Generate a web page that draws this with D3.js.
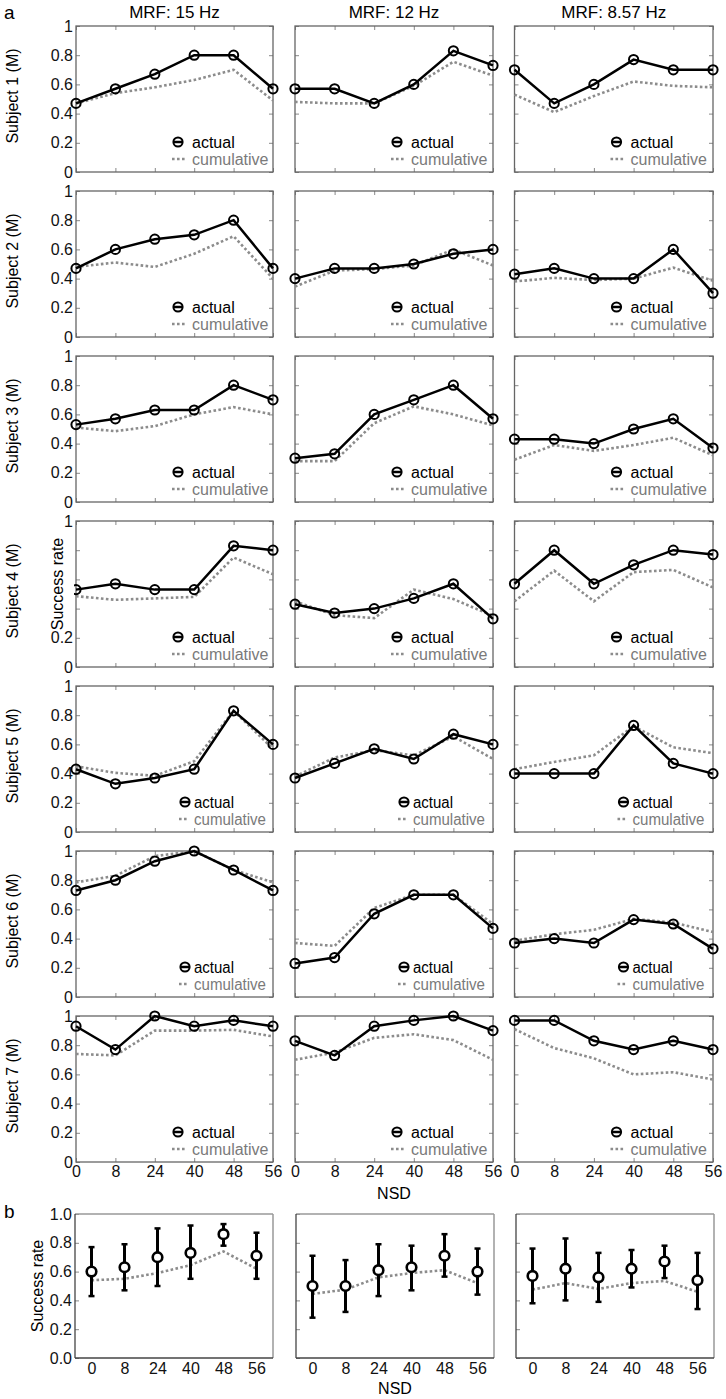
<!DOCTYPE html>
<html><head><meta charset="utf-8">
<script src="https://cdn.jsdelivr.net/npm/d3@7"></script>
<style>
html,body{margin:0;padding:0;background:#fff;}
svg{display:block;font-family:"Liberation Sans",Arial,sans-serif;}
</style></head>
<body>
<svg id="chart" width="726" height="1399"></svg>
<script>
// ---------- DATA ----------
const categories = ["0","8","24","40","48","56"];
const titles = ["MRF: 15 Hz","MRF: 12 Hz","MRF: 8.57 Hz"];
const subjects = ["Subject 1 (M)","Subject 2 (M)","Subject 3 (M)","Subject 4 (M)","Subject 5 (M)","Subject 6 (M)","Subject 7 (M)"];
const yTicksA = [0,0.2,0.4,0.6,0.8,1];
const yTicksB = [0,0.2,0.4,0.6,0.8,1.0];

// actual success rate per subject: [15 Hz, 12 Hz, 8.57 Hz]
const actualS1 = [[0.47,0.57,0.67,0.80,0.80,0.57],[0.57,0.57,0.47,0.60,0.83,0.73],[0.70,0.47,0.60,0.77,0.70,0.70]];
const actualS2 = [[0.47,0.60,0.67,0.70,0.80,0.47],[0.40,0.47,0.47,0.50,0.57,0.60],[0.43,0.47,0.40,0.40,0.60,0.30]];
const actualS3 = [[0.53,0.57,0.63,0.63,0.80,0.70],[0.30,0.33,0.60,0.70,0.80,0.57],[0.43,0.43,0.40,0.50,0.57,0.37]];
const actualS4 = [[0.53,0.57,0.53,0.53,0.83,0.80],[0.43,0.37,0.40,0.47,0.57,0.33],[0.57,0.80,0.57,0.70,0.80,0.77]];
const actualS5 = [[0.43,0.33,0.37,0.43,0.83,0.60],[0.37,0.47,0.57,0.50,0.67,0.60],[0.40,0.40,0.40,0.73,0.47,0.40]];
const actualS6 = [[0.73,0.80,0.93,1.00,0.87,0.73],[0.23,0.27,0.57,0.70,0.70,0.47],[0.37,0.40,0.37,0.53,0.50,0.33]];
const actualS7 = [[0.93,0.77,1.00,0.93,0.97,0.93],[0.83,0.73,0.93,0.97,1.00,0.90],[0.97,0.97,0.83,0.77,0.83,0.77]];

// cumulative success rate per subject
const cumulS1 = [[0.47,0.54,0.58,0.63,0.70,0.49],[0.48,0.47,0.47,0.59,0.755,0.66],[0.53,0.41,0.52,0.62,0.59,0.58]];
const cumulS2 = [[0.48,0.51,0.48,0.57,0.69,0.40],[0.345,0.455,0.465,0.49,0.60,0.49],[0.38,0.405,0.39,0.40,0.475,0.385]];
const cumulS3 = [[0.51,0.485,0.52,0.60,0.65,0.60],[0.28,0.28,0.54,0.655,0.60,0.525],[0.29,0.39,0.35,0.39,0.44,0.32]];
const cumulS4 = [[0.485,0.46,0.47,0.48,0.75,0.635],[0.45,0.355,0.335,0.53,0.465,0.35],[0.45,0.66,0.45,0.65,0.665,0.545]];
const cumulS5 = [[0.45,0.405,0.385,0.485,0.83,0.57],[0.38,0.51,0.56,0.525,0.655,0.50],[0.43,0.48,0.525,0.725,0.58,0.54]];
const cumulS6 = [[0.785,0.83,0.965,1.00,0.87,0.785],[0.37,0.35,0.61,0.70,0.70,0.50],[0.385,0.43,0.46,0.535,0.51,0.445]];
const cumulS7 = [[0.74,0.73,0.90,0.90,0.905,0.86],[0.70,0.75,0.85,0.875,0.835,0.70],[0.91,0.78,0.71,0.60,0.615,0.565]];

// panel b: mean, error bar upper/lower, cumulative
const bMean  = [[0.60,0.63,0.70,0.73,0.86,0.71],[0.50,0.50,0.61,0.63,0.71,0.60],[0.57,0.62,0.56,0.62,0.67,0.54]];
const bUpper = [[0.77,0.79,0.90,0.92,0.93,0.87],[0.71,0.68,0.79,0.78,0.86,0.76],[0.76,0.83,0.73,0.75,0.78,0.73]];
const bLower = [[0.43,0.47,0.50,0.55,0.78,0.55],[0.28,0.32,0.43,0.47,0.565,0.44],[0.38,0.40,0.39,0.49,0.555,0.34]];
const bCumul = [[0.54,0.55,0.59,0.645,0.74,0.62],[0.445,0.475,0.56,0.59,0.61,0.52],[0.475,0.52,0.48,0.52,0.535,0.46]];

const actualAll = [actualS1,actualS2,actualS3,actualS4,actualS5,actualS6,actualS7];
const cumulAll  = [cumulS1,cumulS2,cumulS3,cumulS4,cumulS5,cumulS6,cumulS7];

// ---------- LAYOUT ----------
const svg = d3.select("#chart");
const colX = [76, 295, 514.5];
const colW = [197, 198, 198.5];
const rowTop0 = 26, rowPitch = 165, panelH = 146;
const bTop = 1214, bH = 144;
const bColX = [75, 296, 516], bW = 198;
const frameColor = "#666", tickColor = "#888";
const grayDot = "#8c8c8c";
const FS = 16;

function fmtA(d){ return d===0 ? "0" : d===1 ? "1" : d3.format(".1f")(d); }

function drawFrame(g, w, h){
  g.append("rect").attr("x",0).attr("y",0).attr("width",w).attr("height",h)
    .attr("fill","none").attr("stroke",frameColor).attr("stroke-width",1.3);
}

// ---------- PANEL a ----------
for(let r=0;r<7;r++){
  const top = rowTop0 + r*rowPitch;
  for(let c=0;c<3;c++){
    const w = colW[c];
    const g = svg.append("g").attr("transform",`translate(${colX[c]},${top})`);
    const x = d3.scalePoint().domain(categories).range([0,w]).padding(0);
    const y = d3.scaleLinear().domain([0,1]).range([panelH,0]);

    const yl = g.append("g").call(d3.axisLeft(y).tickValues(yTicksA).tickSizeInner(-4).tickSizeOuter(0).tickPadding(3).tickFormat(c===0?fmtA:()=>""));
    const yr = g.append("g").attr("transform",`translate(${w},0)`).call(d3.axisRight(y).tickValues(yTicksA).tickSizeInner(-4).tickSizeOuter(0).tickFormat(()=>""));
    const xb = g.append("g").attr("transform",`translate(0,${panelH})`).call(d3.axisBottom(x).tickSizeInner(-4).tickSizeOuter(0).tickPadding(4).tickFormat(r===6?(d=>d):()=>""));
    const xt = g.append("g").call(d3.axisTop(x).tickSizeInner(-4).tickSizeOuter(0).tickFormat(()=>""));
    [yl,yr,xb,xt].forEach(a=>{
      a.select(".domain").remove();
      a.selectAll(".tick line").attr("stroke",tickColor);
      a.selectAll("text").attr("font-size",FS).attr("fill","#111").attr("font-family","Liberation Sans, Arial, sans-serif");
    });
    drawFrame(g,w,panelH);

    const pts = categories.map((k,i)=>({k, a: actualAll[r][c][i], cu: cumulAll[r][c][i]}));
    g.append("path").datum(pts)
      .attr("d", d3.line().x(d=>x(d.k)).y(d=>y(d.cu)))
      .attr("fill","none").attr("stroke",grayDot).attr("stroke-width",2.6).attr("stroke-dasharray","2.6,2.4");
    g.append("path").datum(pts)
      .attr("d", d3.line().x(d=>x(d.k)).y(d=>y(d.a)))
      .attr("fill","none").attr("stroke","#000").attr("stroke-width",2.5);
    g.selectAll("circle.pt").data(pts).join("circle").attr("class","pt")
      .attr("cx",d=>x(d.k)).attr("cy",d=>y(d.a)).attr("r",4.6)
      .attr("fill","none").attr("stroke","#000").attr("stroke-width",2);

    // legend
    const compact = (r===4 || r===5);
    const mx = compact ? 109 : 102;
    const tx = compact ? 118 : 116;
    const ay = panelH - 30, cy = panelH - 13;
    g.append("line").attr("x1",mx-4.5).attr("x2",mx+4.5).attr("y1",ay).attr("y2",ay).attr("stroke","#000").attr("stroke-width",2.5);
    g.append("circle").attr("cx",mx).attr("cy",ay).attr("r",4.6).attr("fill","none").attr("stroke","#000").attr("stroke-width",2);
    g.append("text").attr("x",tx).attr("y",ay).attr("dy","0.35em").attr("font-size",FS).attr("fill","#000")
      .attr("textLength",compact?40:null).attr("lengthAdjust","spacingAndGlyphs").text("actual");
    g.append("line").attr("x1",mx-6).attr("x2",tx-6).attr("y1",cy).attr("y2",cy)
      .attr("stroke",grayDot).attr("stroke-width",2.6).attr("stroke-dasharray","2.6,2.4");
    g.append("text").attr("x",tx).attr("y",cy).attr("dy","0.35em").attr("font-size",FS).attr("fill","#7a7a7a")
      .attr("textLength",compact?72:null).attr("lengthAdjust","spacingAndGlyphs").text("cumulative");

    if(r===0){
      svg.append("text").attr("x",colX[c]+w/2).attr("y",18).attr("text-anchor","middle")
        .attr("font-size",17).attr("fill","#000").text(titles[c]);
    }
  }
  svg.append("text").attr("transform",`translate(18,${top+panelH/2-3}) rotate(-90)`)
    .attr("text-anchor","middle").attr("font-size",FS).attr("fill","#000").text(subjects[r]);
}
// shared y label of panel a, drawn on a white backing over the row-4 tick labels
const srY = rowTop0+3*rowPitch+panelH/2 - 10;
svg.append("rect").attr("x",47).attr("y",srY-49).attr("width",27).attr("height",94).attr("fill","#fff");
svg.append("text").attr("transform",`translate(63,${srY}) rotate(-90)`)
  .attr("text-anchor","middle").attr("font-size",FS).attr("fill","#000").text("Success rate");
svg.append("text").attr("x",colX[1]+colW[1]/2).attr("y",1199).attr("text-anchor","middle")
  .attr("font-size",FS).attr("fill","#000").text("NSD");
svg.append("text").attr("x",4).attr("y",19).attr("font-size",19).attr("fill","#000").text("a");

// ---------- PANEL b ----------
for(let c=0;c<3;c++){
  const g = svg.append("g").attr("transform",`translate(${bColX[c]},${bTop})`);
  const x = d3.scalePoint().domain(categories).range([0,bW]).padding(0.5);
  const y = d3.scaleLinear().domain([0,1]).range([bH,0]);
  const yl = g.append("g").call(d3.axisLeft(y).tickValues(yTicksB).tickSizeInner(-4).tickSizeOuter(0).tickPadding(3).tickFormat(c===0?d3.format(".1f"):()=>""));
  const xb = g.append("g").attr("transform",`translate(0,${bH})`).call(d3.axisBottom(x).tickSize(0).tickPadding(5).tickFormat(d=>d));
  [yl,xb].forEach(a=>{
    a.select(".domain").remove();
    a.selectAll(".tick line").attr("stroke",tickColor);
    a.selectAll("text").attr("font-size",FS).attr("fill","#111").attr("font-family","Liberation Sans, Arial, sans-serif");
  });
  g.append("line").attr("x1",0).attr("x2",bW).attr("y1",0).attr("y2",0).attr("stroke","#999").attr("stroke-width",1.5);
  g.append("line").attr("x1",bW).attr("x2",bW).attr("y1",0).attr("y2",bH).attr("stroke","#999").attr("stroke-width",1.5);
  g.append("line").attr("x1",0).attr("x2",0).attr("y1",0).attr("y2",bH).attr("stroke","#444").attr("stroke-width",1.3);
  g.append("line").attr("x1",0).attr("x2",bW).attr("y1",bH).attr("y2",bH).attr("stroke","#444").attr("stroke-width",1.3);

  const pts = categories.map((k,i)=>({k, m:bMean[c][i], u:bUpper[c][i], l:bLower[c][i], cu:bCumul[c][i]}));
  g.append("path").datum(pts).attr("d", d3.line().x(d=>x(d.k)).y(d=>y(d.cu)))
    .attr("fill","none").attr("stroke",grayDot).attr("stroke-width",2.6).attr("stroke-dasharray","2.6,2.4");
  const eb = g.selectAll("g.eb").data(pts).join("g").attr("class","eb");
  eb.append("line").attr("x1",d=>x(d.k)).attr("x2",d=>x(d.k)).attr("y1",d=>y(d.u)).attr("y2",d=>y(d.l))
    .attr("stroke","#000").attr("stroke-width",3);
  eb.append("line").attr("x1",d=>x(d.k)-3).attr("x2",d=>x(d.k)+3).attr("y1",d=>y(d.u)).attr("y2",d=>y(d.u))
    .attr("stroke","#000").attr("stroke-width",2.5);
  eb.append("line").attr("x1",d=>x(d.k)-3).attr("x2",d=>x(d.k)+3).attr("y1",d=>y(d.l)).attr("y2",d=>y(d.l))
    .attr("stroke","#000").attr("stroke-width",2.5);
  eb.append("circle").attr("cx",d=>x(d.k)).attr("cy",d=>y(d.m)).attr("r",4.8)
    .attr("fill","#fff").attr("stroke","#000").attr("stroke-width",2.6);
}
svg.append("text").attr("transform",`translate(43,${bTop+bH/2}) rotate(-90)`)
  .attr("text-anchor","middle").attr("font-size",FS).attr("fill","#000").text("Success rate");
svg.append("text").attr("x",bColX[1]+bW/2).attr("y",1394).attr("text-anchor","middle")
  .attr("font-size",FS).attr("fill","#000").text("NSD");
svg.append("text").attr("x",4).attr("y",1218).attr("font-size",19).attr("fill","#000").text("b");
</script>
</body></html>
